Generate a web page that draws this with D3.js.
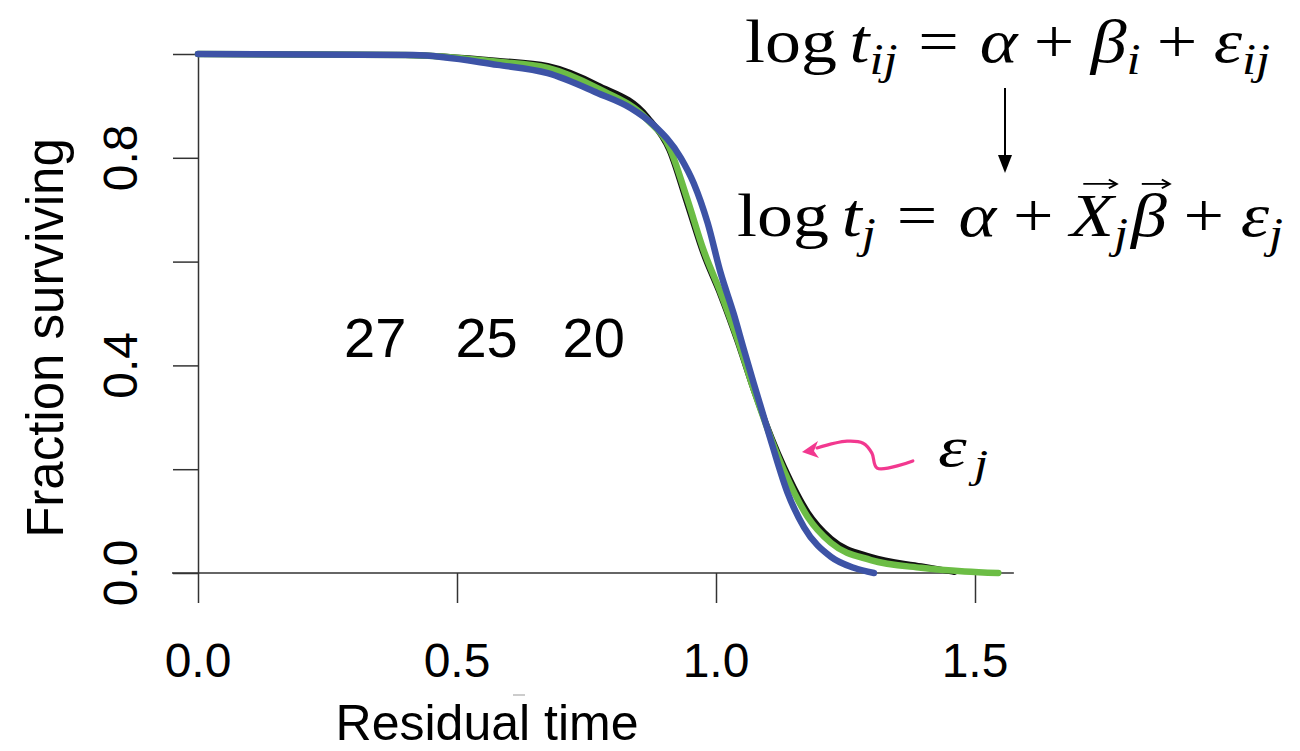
<!DOCTYPE html>
<html><head><meta charset="utf-8">
<script src="https://cdn.jsdelivr.net/npm/d3@7"></script>
<style>body{margin:0;background:#fff} svg{display:block}</style>
</head><body><svg id="c" width="1300" height="751"></svg>
<script>
// ---- data ----
const blackT = [0, 0.40, 0.578, 0.675, 0.771, 0.868, 0.91, 0.945, 0.976, 1.009, 1.042, 1.073, 1.131, 1.177, 1.222, 1.299, 1.396, 1.46];
const blackS = [1, 0.998, 0.987, 0.977, 0.940, 0.878, 0.815, 0.71, 0.615, 0.535, 0.445, 0.352, 0.205, 0.117, 0.066, 0.031, 0.013, 0.002];
const greenT = [0, 0.40, 0.578, 0.675, 0.771, 0.868, 0.91, 0.945, 0.976, 1.009, 1.042, 1.073, 1.131, 1.177, 1.222, 1.299, 1.396, 1.48, 1.545];
const greenS = [1, 0.998, 0.985, 0.973, 0.934, 0.873, 0.82, 0.719, 0.622, 0.54, 0.449, 0.353, 0.198, 0.108, 0.058, 0.025, 0.01, 0.003, 0.0];
const blueT  = [0, 0.416, 0.578, 0.675, 0.771, 0.835, 0.88, 0.932, 0.957, 0.984, 1.009, 1.034, 1.054, 1.073, 1.106, 1.138, 1.17, 1.222, 1.266, 1.305];
const blueS  = [1, 0.998, 0.979, 0.963, 0.925, 0.896, 0.863, 0.80, 0.751, 0.674, 0.578, 0.50, 0.43, 0.365, 0.255, 0.155, 0.088, 0.031, 0.01, 0.0];
const xTicks = [0, 0.5, 1.0, 1.5];
const xTickLabels = ["0.0", "0.5", "1.0", "1.5"];
const yTicks = [0, 0.2, 0.4, 0.6, 0.8, 1.0];
const yTickLabels = ["0.0", "", "0.4", "", "0.8", ""];
const groupLabels = ["27", "25", "20"];
const xTitle = "Residual time";
const yTitle = "Fraction surviving";
// annotation arrow (data coords)
const pinkT = [1.380, 1.311, 1.301, 1.284, 1.253, 1.195];
const pinkS = [0.216, 0.202, 0.231, 0.250, 0.254, 0.241];

// ---- layout ----
const svg = d3.select("#c");
const x = d3.scaleLinear().domain([0, 1.5]).range([198, 975]);
const y = d3.scaleLinear().domain([0, 1]).range([573, 54]);
const SANS = "'Liberation Sans', Arial, Helvetica, sans-serif";
const SERIF = "'Liberation Serif', 'Times New Roman', serif";
const AX = "#333";

// x axis
const xAxis = svg.append("g").attr("transform", "translate(0,573)")
  .call(d3.axisBottom(x).tickValues(xTicks).tickSize(30).tickSizeOuter(0).tickFormat(() => ""));
xAxis.select(".domain").remove();
xAxis.selectAll("line").attr("stroke", AX).attr("stroke-width", 1.5);
svg.append("line").attr("x1", x(0) - 26).attr("x2", x(1.575)).attr("y1", y(0)).attr("y2", y(0))
  .attr("stroke", AX).attr("stroke-width", 1.5);
svg.append("g").selectAll("text").data(xTicks).join("text")
  .attr("x", d => x(d)).attr("y", 677).attr("text-anchor", "middle")
  .attr("font-family", SANS).attr("font-size", 48).attr("fill", "#000")
  .text((d, i) => xTickLabels[i]);

// y axis
const yAxis = svg.append("g").attr("transform", "translate(198,0)")
  .call(d3.axisLeft(y).tickValues(yTicks).tickSize(25).tickSizeOuter(0).tickFormat(() => ""));
yAxis.select(".domain").attr("stroke", AX).attr("stroke-width", 1.5);
yAxis.selectAll("line").attr("stroke", AX).attr("stroke-width", 1.5);
svg.append("g").selectAll("text").data(yTicks.filter((d, i) => yTickLabels[i])).join("text")
  .attr("transform", d => `translate(137,${y(d)}) rotate(-90)`).attr("text-anchor", "middle")
  .attr("font-family", SANS).attr("font-size", 48).attr("fill", "#000")
  .text(d => yTickLabels[yTicks.indexOf(d)]);

// titles
svg.append("text").attr("x", 487).attr("y", 740).attr("text-anchor", "middle")
  .attr("font-family", SANS).attr("font-size", 50).text(xTitle);
svg.append("text").attr("transform", "translate(63,338) rotate(-90)").attr("text-anchor", "middle")
  .attr("font-family", SANS).attr("font-size", 51).text(yTitle);
svg.append("line").attr("x1", 513).attr("x2", 525).attr("y1", 695).attr("y2", 695)
  .attr("stroke", "#bbb").attr("stroke-width", 1.5);

// curves
const line = d3.line().x(d => x(d[0])).y(d => y(d[1])).curve(d3.curveMonotoneX);
const series = [
  {t: blackT, s: blackS, c: "#111", w: 6},
  {t: greenT, s: greenS, c: "#6cbd45", w: 6.5},
  {t: blueT, s: blueS, c: "#3d53a6", w: 6.5}
];
series.forEach(sr => {
  svg.append("path").datum(sr.t.map((t, i) => [t, sr.s[i]]))
    .attr("d", line).attr("fill", "none").attr("stroke", sr.c).attr("stroke-width", sr.w)
    .attr("stroke-linecap", "round").attr("stroke-linejoin", "round");
});

// group labels
const groupX = [0.342, 0.557, 0.764];
svg.append("g").selectAll("text").data(groupLabels).join("text")
  .attr("x", (d, i) => x(groupX[i])).attr("y", 357).attr("text-anchor", "middle")
  .attr("font-family", SANS).attr("font-size", 56).text(d => d);

// equations: fixed font size, horizontal stretch sx; extra width distributed into the gaps
function layoutEq(pieces, F, sx, x0, x1, baseline) {
  const grp = svg.append("g").attr("font-family", SERIF).attr("fill", "#000")
    .attr("transform", `translate(${x0},${baseline}) scale(${sx},1)`);
  const items = pieces.map(p => {
    const fs = p.sub ? F * 0.7 : F;
    const t = grp.append("text").attr("y", p.sub ? F * 0.2 : 0).attr("font-size", fs)
      .attr("font-style", p.it ? "italic" : "normal").text(p.t);
    return {p, t, w: t.node().getComputedTextLength()};
  });
  let natural = 0, gapSum = 0;
  items.forEach(o => { natural += o.w + ((o.p.pre || 0) + (o.p.post || 0)) * F; gapSum += (o.p.pre || 0) + (o.p.post || 0); });
  const k = x1 == null || gapSum === 0 ? 1 : 1 + ((x1 - x0) / sx - natural) / (gapSum * F);
  let cx = 0;
  items.forEach(o => {
    cx += (o.p.pre || 0) * F * k;
    o.t.attr("x", cx);
    if (o.p.vec) {
      const ax0 = cx + o.w * 0.3, ax1 = cx + o.w * 0.98 + F * 0.04, ay = -F * 0.84, sw = F * 0.03;
      grp.append("path").attr("d", `M${ax0},${ay}H${ax1}`).attr("stroke", "#000").attr("stroke-width", sw);
      grp.append("path").attr("d", `M${ax1 - F*0.1},${ay - F*0.07} L${ax1 + F*0.01},${ay} L${ax1 - F*0.1},${ay + F*0.07}`)
        .attr("stroke", "#000").attr("stroke-width", sw).attr("fill", "none");
    }
    cx += o.w + (o.p.post || 0) * F * k;
  });
}
const eq1 = [
  {t: "log"}, {t: "t", it: 1, pre: 0.17}, {t: "ij", it: 1, sub: 1},
  {t: "=", pre: 0.28, post: 0.28}, {t: "α", it: 1}, {t: "+", pre: 0.22, post: 0.22},
  {t: "β", it: 1}, {t: "i", it: 1, sub: 1}, {t: "+", pre: 0.22, post: 0.22},
  {t: "ε", it: 1}, {t: "ij", it: 1, sub: 1}
];
const eq2 = [
  {t: "log"}, {t: "t", it: 1, pre: 0.17}, {t: "j", it: 1, sub: 1},
  {t: "=", pre: 0.28, post: 0.28}, {t: "α", it: 1}, {t: "+", pre: 0.22, post: 0.22},
  {t: "X", it: 1, vec: 1}, {t: "j", it: 1, sub: 1}, {t: "β", it: 1, vec: 1, pre: 0.04},
  {t: "+", pre: 0.22, post: 0.22}, {t: "ε", it: 1}, {t: "j", it: 1, sub: 1}
];
layoutEq(eq1, 62, 1.16, 745, 1270, 62);
layoutEq(eq2, 62, 1.16, 737, 1283, 236);
// down arrow between equations
svg.append("line").attr("x1", 1005).attr("x2", 1005).attr("y1", 88).attr("y2", 160)
  .attr("stroke", "#000").attr("stroke-width", 2);
svg.append("path").attr("d", "M998,155 L1012,155 L1005,173 Z").attr("fill", "#000");

// pink annotation arrow
const PINK = "#f2388f";
svg.append("path").datum(pinkT.map((t, i) => [t, pinkS[i]]))
  .attr("d", d3.line().x(d => x(d[0])).y(d => y(d[1])).curve(d3.curveCatmullRom))
  .attr("fill", "none").attr("stroke", PINK).attr("stroke-width", 3.2).attr("stroke-linecap", "round");
const tipX = x(1.166), tipY = y(0.233);
svg.append("path").attr("d", `M${tipX},${tipY} L${tipX + 16},${tipY - 11} L${tipX + 12},${tipY - 1} L${tipX + 17},${tipY + 6} Z`)
  .attr("fill", PINK);
// epsilon_j label
layoutEq([{t: "ε", it: 1}, {t: "j", it: 1, sub: 1, pre: 0.1}], 56, 1.3, 938, null, 466);
</script></body></html>
